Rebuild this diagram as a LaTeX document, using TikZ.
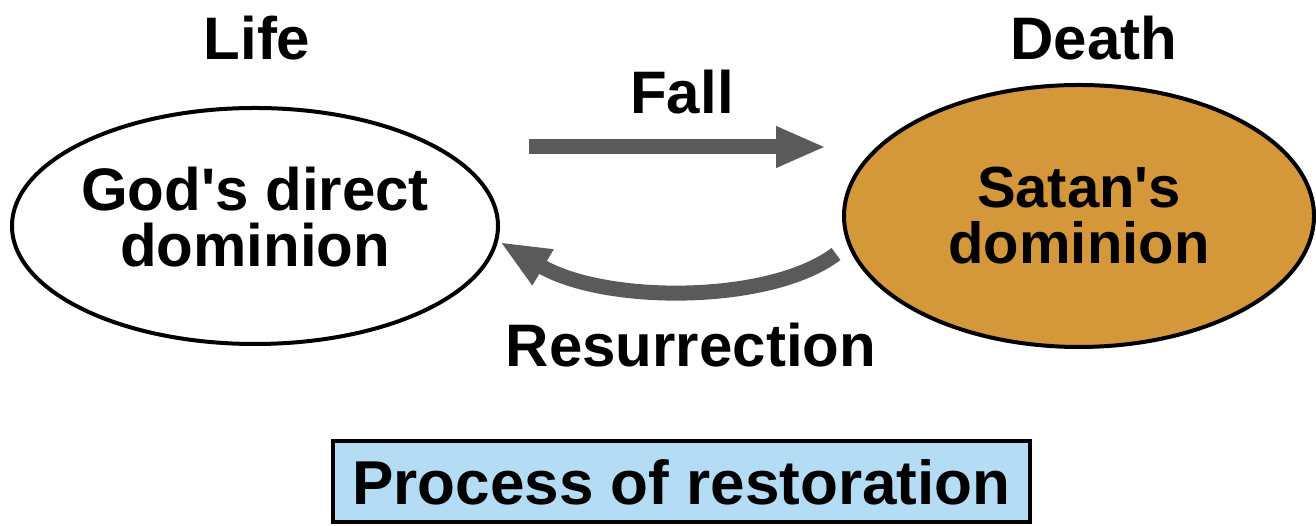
\documentclass[tikz,border=0pt]{standalone}
\usepackage{fontspec}
\setmainfont{Liberation Sans}[Ligatures=TeXOff]
\usetikzlibrary{shapes.geometric,arrows.meta}
\definecolor{satan}{RGB}{212,152,58}
\definecolor{arrowgray}{RGB}{90,90,90}
\definecolor{boxblue}{RGB}{180,220,244}
\tikzset{
  dom/.style={ellipse, draw=black, line width=4pt, inner sep=0pt, align=center,
    font=\fontsize{58}{56}\selectfont\bfseries},
  lbl/.style={inner sep=0pt, font=\fontsize{60}{60}\selectfont\bfseries},
  bigarrow/.style={draw=arrowgray, line width=15pt,
    -{Triangle[length=50pt,width=38pt]}},
  titlebox/.style={draw=black, line width=4pt, fill=boxblue, inner sep=0pt,
    minimum width=697pt, minimum height=81pt,
    font=\fontsize{62}{62}\selectfont\bfseries}
}
\begin{document}
\begin{tikzpicture}[x=1pt,y=1pt]
\useasboundingbox (0,0) rectangle (1316,526);
\node[dom, minimum width=486pt, minimum height=236pt] (god) at (255,300) {};
\node[align=center, inner sep=0pt, font=\fontsize{60}{56}\selectfont\bfseries] (godtxt) at (255,309) {God's direct\\dominion};
\node[dom, fill=satan, minimum width=470pt, minimum height=262pt] (satan) at (1079,310) {Satan's\\dominion};
\node[lbl] (life) at (257,488) {Life};
\node[lbl] (death) at (1094,488) {Death};
\node[lbl] (fall) at (682,434) {Fall};
\node[lbl] (res) at (691,181) {Resurrection};
\node[titlebox] (proc) at (681.5,44) {Process of restoration};
\coordinate (f1) at (529,379);
\coordinate (f2) at (826,379);
\coordinate (r1) at (836,272);
\coordinate (r2) at (500,284);
\draw[bigarrow] (f1) -- (f2);
\draw[bigarrow] (r1) .. controls (770,222) and (605,222) .. (r2);
\end{tikzpicture}
\end{document}
